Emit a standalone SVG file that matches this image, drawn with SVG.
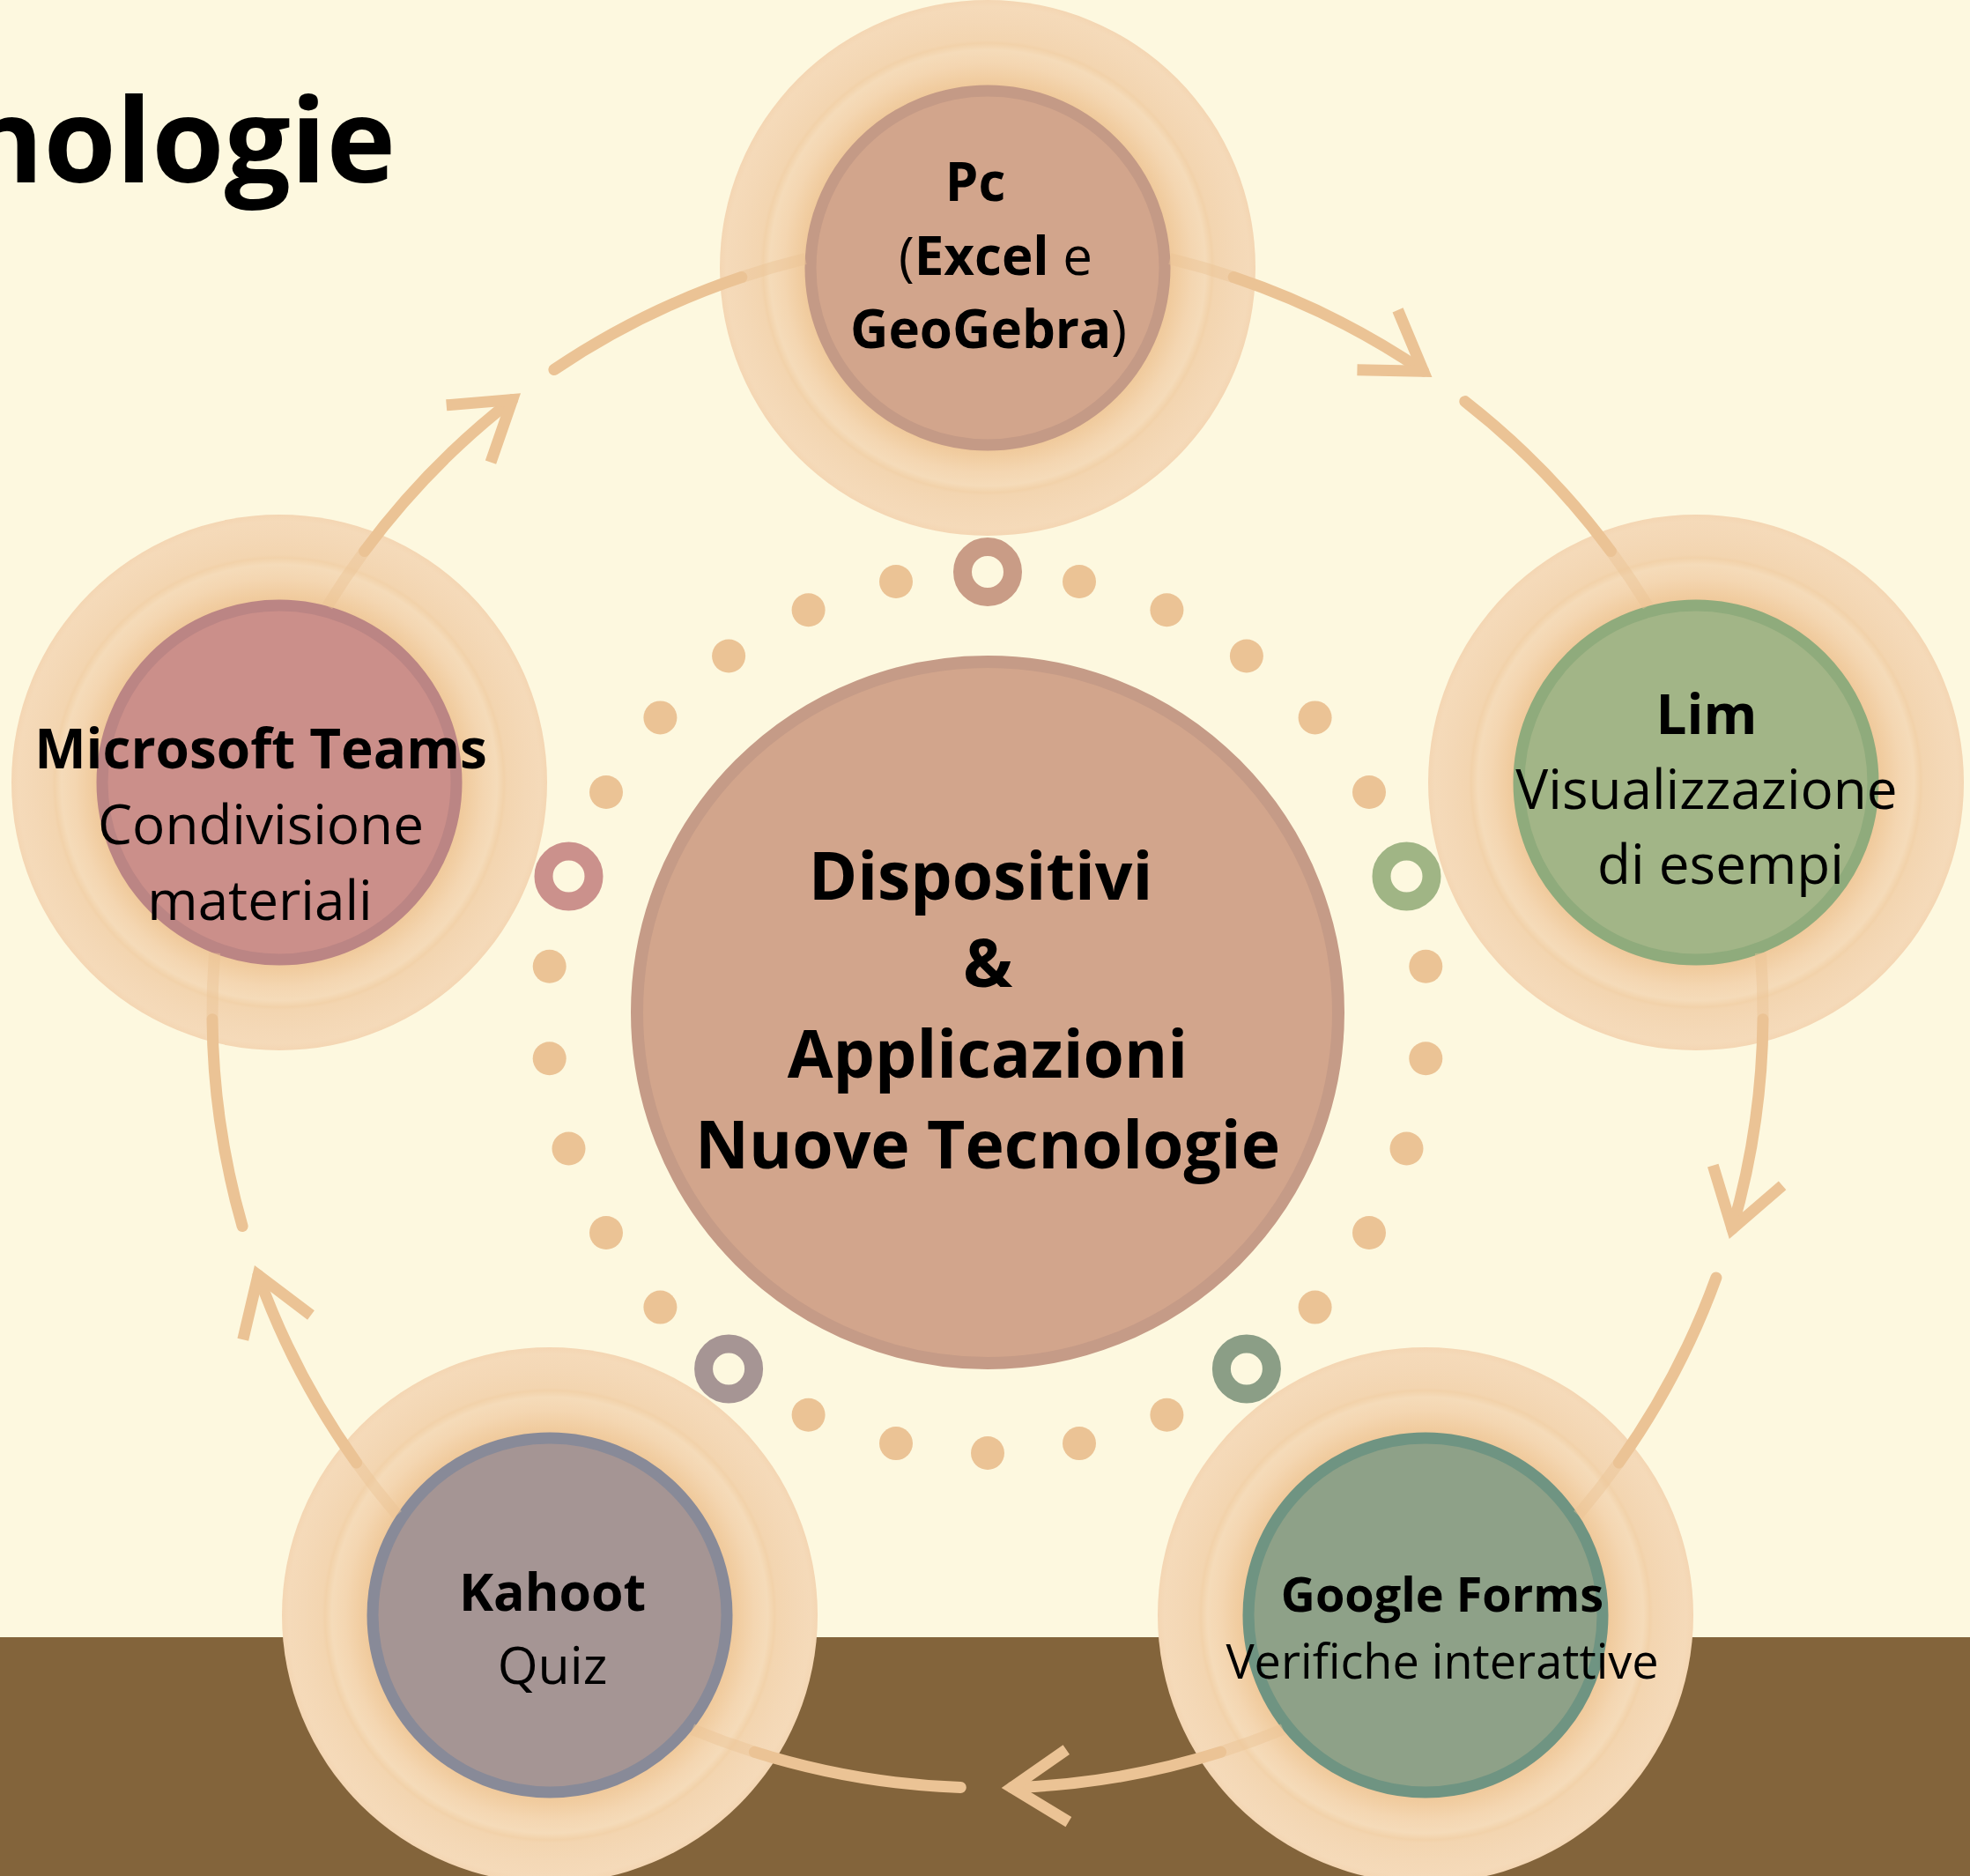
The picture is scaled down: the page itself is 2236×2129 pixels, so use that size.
<svg xmlns="http://www.w3.org/2000/svg" width="2236" height="2129" viewBox="0 0 2236 2129">
<defs>
<style>
.t{font-family:"Open Sans","Noto Sans","DejaVu Sans",sans-serif;fill:#000;text-anchor:middle}
.b{font-weight:700}
.r{font-weight:400}
.dot{fill:#ebc395}
.ring{fill:none;stroke-width:21}
.ln{fill:none;stroke:#ebc395;stroke-width:13;stroke-linecap:round}
.lf{fill:none;stroke:#ebc395;stroke-width:13;stroke-opacity:0.45}
.arr{fill:none;stroke:#ebc395;stroke-width:13;stroke-linejoin:miter;stroke-linecap:butt}
.halo{fill:url(#gOuter)}
.mid{fill:url(#gMid)}
</style>
<radialGradient id="gOuter" cx="50%" cy="50%" r="50%">
<stop offset="0.82" stop-color="#f0cc9f"/>
<stop offset="0.85" stop-color="#f3d5b0"/>
<stop offset="0.92" stop-color="#f4d8b6"/>
<stop offset="0.975" stop-color="#f5dab9"/>
<stop offset="1" stop-color="#f4d6b3"/>
</radialGradient>
<radialGradient id="gMid" cx="50%" cy="50%" r="50%">
<stop offset="0.78" stop-color="#eec595"/>
<stop offset="0.84" stop-color="#f1cda1"/>
<stop offset="0.91" stop-color="#f4d6b1"/>
<stop offset="0.97" stop-color="#f5dbb9"/>
<stop offset="1" stop-color="#f2d2aa"/>
</radialGradient>
<marker id="chev" markerUnits="userSpaceOnUse" orient="auto" markerWidth="10" markerHeight="10" refX="0" refY="0" overflow="visible">
<path class="arr" d="M-63,-41 L0,0 L-63,41"/>
</marker>
</defs>

<rect width="2236" height="2129" fill="#fdf8df"/>
<rect x="0" y="1858" width="2236" height="271" fill="#83643b"/>

<text class="t b" x="449" y="207" font-size="133" style="text-anchor:end">nologie</text>

<g id="ring-dots">
<circle class="ring" cx="1121" cy="649" r="28.5" stroke="#c99c86"/>
<circle class="dot" cx="1225" cy="660" r="19"/>
<circle class="dot" cx="1324.4" cy="692.2" r="19"/>
<circle class="dot" cx="1414.9" cy="744.5" r="19"/>
<circle class="dot" cx="1492.6" cy="814.4" r="19"/>
<circle class="dot" cx="1554" cy="899" r="19"/>
<circle class="ring" cx="1596.5" cy="994.5" r="28.5" stroke="#a0b585"/>
<circle class="dot" cx="1618.3" cy="1096.7" r="19"/>
<circle class="dot" cx="1618.3" cy="1201.3" r="19"/>
<circle class="dot" cx="1596.5" cy="1303.5" r="19"/>
<circle class="dot" cx="1554" cy="1399" r="19"/>
<circle class="dot" cx="1492.6" cy="1483.6" r="19"/>
<circle class="ring" cx="1414.9" cy="1553.5" r="28.5" stroke="#8b9e86"/>
<circle class="dot" cx="1324.4" cy="1605.8" r="19"/>
<circle class="dot" cx="1225" cy="1638.1" r="19"/>
<circle class="dot" cx="1121" cy="1649" r="19"/>
<circle class="dot" cx="1017" cy="1638.1" r="19"/>
<circle class="dot" cx="917.6" cy="1605.8" r="19"/>
<circle class="ring" cx="827.1" cy="1553.5" r="28.5" stroke="#a69594"/>
<circle class="dot" cx="749.4" cy="1483.6" r="19"/>
<circle class="dot" cx="688" cy="1399" r="19"/>
<circle class="dot" cx="645.5" cy="1303.5" r="19"/>
<circle class="dot" cx="623.7" cy="1201.3" r="19"/>
<circle class="dot" cx="623.7" cy="1096.7" r="19"/>
<circle class="ring" cx="645.5" cy="994.5" r="28.5" stroke="#cb918c"/>
<circle class="dot" cx="688" cy="899" r="19"/>
<circle class="dot" cx="749.4" cy="814.4" r="19"/>
<circle class="dot" cx="827.1" cy="744.5" r="19"/>
<circle class="dot" cx="917.6" cy="692.2" r="19"/>
<circle class="dot" cx="1017" cy="660" r="19"/>
</g>

<g id="center">
<circle cx="1121" cy="1149" r="398" fill="#d2a58c" stroke="#c59b87" stroke-width="14"/>
<text class="t b" font-size="75"><tspan x="1113" y="1021">Dispositivi</tspan><tspan x="1121" y="1120">&amp;</tspan><tspan x="1121" y="1223">Applicazioni</tspan><tspan x="1121" y="1326">Nuove Tecnologie</tspan></text>
</g>

<g id="node-pc" transform="translate(1121,304)">
<circle class="halo" r="304"/>
<circle class="mid" r="255"/>
<circle r="201" fill="#d2a58c" stroke="#c49a86" stroke-width="13"/>
<text class="t" font-size="60"><tspan class="b" x="-14" y="-76">Pc</tspan><tspan x="9" y="8">(<tspan class="b">Excel</tspan> e</tspan><tspan x="1" y="91"><tspan class="b">GeoGebra</tspan>)</tspan></text>
</g>

<g id="node-lim" transform="translate(1925,888)">
<circle class="halo" r="304"/>
<circle class="mid" r="255"/>
<circle r="201" fill="#a2b587" stroke="#8fab7c" stroke-width="13"/>
<text class="t" font-size="62"><tspan class="b" x="12" y="-55">Lim</tspan><tspan class="r" x="12" y="30">Visualizzazione</tspan><tspan class="r" x="28" y="115">di esempi</tspan></text>
</g>

<g id="node-forms" transform="translate(1618,1833)">
<circle class="halo" r="304"/>
<circle class="mid" r="255"/>
<circle r="201" fill="#8ea188" stroke="#6f9482" stroke-width="13"/>
<text class="t" font-size="54"><tspan class="b" x="19" y="-4">Google Forms</tspan><tspan class="r" x="19" y="72">Verifiche interattive</tspan></text>
</g>

<g id="node-kahoot" transform="translate(624,1833)">
<circle class="halo" r="304"/>
<circle class="mid" r="255"/>
<circle r="201" fill="#a59594" stroke="#888a98" stroke-width="13"/>
<text class="t" font-size="59"><tspan class="b" x="3" y="-5">Kahoot</tspan><tspan class="r" x="3" y="78">Quiz</tspan></text>
</g>

<g id="node-teams" transform="translate(317,888)">
<circle class="halo" r="304"/>
<circle class="mid" r="255"/>
<circle r="201" fill="#cb8f8a" stroke="#bb8584" stroke-width="13"/>
<text class="t" font-size="62"><tspan class="b" x="-21" y="-16">Microsoft Teams</tspan><tspan class="r" x="-21" y="70">Condivisione</tspan><tspan class="r" x="-22" y="156">materiali</tspan></text>
</g>

<g id="connectors">
<path class="lf" d="M1327.9,293.6 A880,880 0 0 1 1400.2,314.5"/>
<path class="lf" d="M1828.4,625.6 A880,880 0 0 1 1870.5,687.9"/>
<path class="lf" d="M1998.4,1081.5 A880,880 0 0 1 2001.0,1156.7"/>
<path class="lf" d="M1837.4,1660.0 A880,880 0 0 1 1791.1,1719.3"/>
<path class="lf" d="M1456.4,1962.6 A880,880 0 0 1 1385.6,1988.3"/>
<path class="lf" d="M856.4,1988.3 A880,880 0 0 1 785.6,1962.6"/>
<path class="lf" d="M450.9,1719.3 A880,880 0 0 1 404.6,1660.0"/>
<path class="lf" d="M241.0,1156.7 A880,880 0 0 1 243.6,1081.5"/>
<path class="lf" d="M371.5,687.9 A880,880 0 0 1 413.6,625.6"/>
<path class="lf" d="M841.8,314.5 A880,880 0 0 1 914.1,293.6"/>
<path class="ln" marker-end="url(#chev)" d="M1400.2,314.5 A880,880 0 0 1 1615.6,421.2"/>
<path class="ln" d="M1662.8,455.6 A880,880 0 0 1 1828.4,625.6"/>
<path class="ln" marker-end="url(#chev)" d="M2001.0,1156.7 A880,880 0 0 1 1966.1,1394.5"/>
<path class="ln" d="M1947.9,1450.0 A880,880 0 0 1 1837.4,1660.0"/>
<path class="ln" marker-end="url(#chev)" d="M1385.6,1988.3 A880,880 0 0 1 1148.6,2028.6"/>
<path class="ln" d="M1090.3,2028.5 A880,880 0 0 1 856.4,1988.3"/>
<path class="ln" marker-end="url(#chev)" d="M404.6,1660.0 A880,880 0 0 1 293.0,1447.1"/>
<path class="ln" d="M275.1,1391.5 A880,880 0 0 1 241.0,1156.7"/>
<path class="ln" marker-end="url(#chev)" d="M413.6,625.6 A880,880 0 0 1 581.6,453.6"/>
<path class="ln" d="M628.9,419.5 A880,880 0 0 1 841.8,314.5"/>
</g>
</svg>
